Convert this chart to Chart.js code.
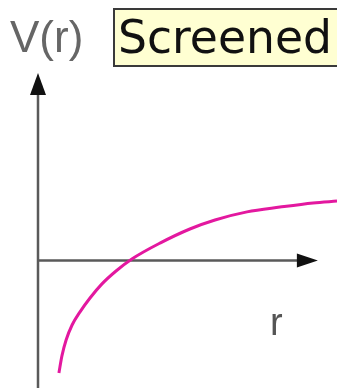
<!DOCTYPE html>
<html>
<head>
<meta charset="utf-8">
<script src="https://cdn.jsdelivr.net/npm/chart.js@4.4.1/dist/chart.umd.min.js"></script>
<style>
  html, body { margin: 0; padding: 0; background: #ffffff; }
  #wrap { width: 337px; height: 388px; position: relative; }
</style>
</head>
<body>
<div id="wrap"><canvas id="c" width="337" height="388"></canvas></div>
<script>
// Data (arbitrary units: r along x, V along y)
const rValues = [0.70, 0.80, 0.94, 1.14, 1.40, 1.74, 2.14, 2.61, 3.14, 4.08, 5.08, 5.92, 6.99, 8.09, 9.20, 10.0];
const vValues = [-3.75, -3.18, -2.65, -2.15, -1.72, -1.25, -0.78, -0.35, 0.05, 0.58, 1.05, 1.35, 1.62, 1.78, 1.92, 1.98];
const titleText = "Screened";
const yAxisLabel = "V(r)";
const xAxisLabel = "r";

const points = rValues.map((r, i) => ({ x: r, y: vValues[i] }));

const sketchPlugin = {
  id: 'sketch',
  beforeDatasetsDraw(chart) {
    const ctx = chart.ctx;
    const xs = chart.scales.x, ys = chart.scales.y;
    const x0 = xs.getPixelForValue(0);
    const y0 = ys.getPixelForValue(0);
    const xEnd = xs.getPixelForValue(9.36);
    const yTop = ys.getPixelForValue(6.25);
    ctx.save();
    ctx.strokeStyle = '#5a5a5a';
    ctx.lineWidth = 2.5;
    // x axis
    ctx.beginPath();
    ctx.moveTo(x0, y0);
    ctx.lineTo(xEnd - 18, y0);
    ctx.stroke();
    // y axis
    ctx.beginPath();
    ctx.moveTo(x0, chart.height);
    ctx.lineTo(x0, yTop + 20);
    ctx.stroke();
    // arrowheads
    ctx.fillStyle = '#111';
    ctx.beginPath();
    ctx.moveTo(xEnd, y0);
    ctx.lineTo(xEnd - 21, y0 - 7);
    ctx.lineTo(xEnd - 21, y0 + 7);
    ctx.closePath();
    ctx.fill();
    ctx.beginPath();
    ctx.moveTo(x0, yTop);
    ctx.lineTo(x0 - 8, yTop + 22);
    ctx.lineTo(x0 + 8, yTop + 22);
    ctx.closePath();
    ctx.fill();
    ctx.restore();
  },
  afterDraw(chart) {
    const ctx = chart.ctx;
    ctx.save();
    // title box (extends past the right edge)
    ctx.fillStyle = '#ffffd2';
    ctx.fillRect(113, 8, 260, 58);
    ctx.strokeStyle = '#3a3a3a';
    ctx.lineWidth = 2;
    ctx.strokeRect(114, 9, 260, 57);
    ctx.fillStyle = '#111';
    ctx.font = '46px "DejaVu Sans"';
    ctx.textBaseline = 'alphabetic';
    const w = ctx.measureText(titleText).width;
    ctx.save();
    ctx.translate(118, 53);
    ctx.scale(214 / w, 1);
    ctx.fillText(titleText, 0, 0);
    ctx.restore();
    // V(r)
    ctx.fillStyle = '#666';
    ctx.font = '44px "Liberation Sans"';
    ctx.fillText(yAxisLabel, 10, 52);
    // r
    ctx.fillStyle = '#555';
    ctx.font = '38px "Liberation Sans"';
    ctx.fillText(xAxisLabel, 270, 335);
    ctx.restore();
  }
};

new Chart(document.getElementById('c'), {
  type: 'line',
  data: {
    datasets: [{
      data: points,
      borderColor: '#e3189f',
      borderWidth: 3,
      pointRadius: 0,
      fill: false,
      cubicInterpolationMode: 'monotone',
      clip: false
    }]
  },
  options: {
    responsive: false,
    animation: false,
    layout: { padding: { left: 38, right: 0, top: 73, bottom: 0 } },
    plugins: { legend: { display: false }, tooltip: { enabled: false }, title: { display: false } },
    scales: {
      x: { type: 'linear', min: 0, max: 10, display: false },
      y: { type: 'linear', min: -4.25, max: 6.25, display: false }
    }
  },
  plugins: [sketchPlugin]
});
</script>
</body>
</html>
